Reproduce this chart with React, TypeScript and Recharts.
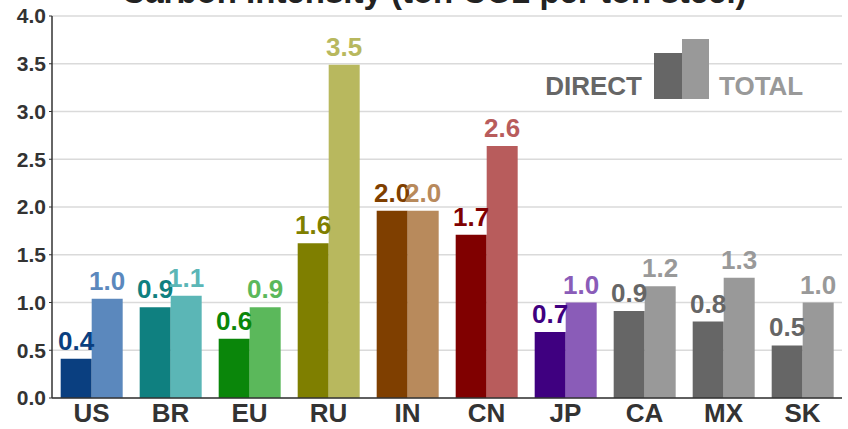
import React from 'react';
import { BarChart, Bar, XAxis, YAxis, CartesianGrid, Cell, LabelList } from 'recharts';

const categories = ['US', 'BR', 'EU', 'RU', 'IN', 'CN', 'JP', 'CA', 'MX', 'SK'];
const directValues = [0.41, 0.95, 0.62, 1.62, 1.96, 1.71, 0.69, 0.91, 0.8, 0.55];
const totalValues = [1.04, 1.07, 0.95, 3.49, 1.96, 2.64, 1.0, 1.17, 1.26, 1.0];
const directLabels = ['0.4', '0.9', '0.6', '1.6', '2.0', '1.7', '0.7', '0.9', '0.8', '0.5'];
const totalLabels = ['1.0', '1.1', '0.9', '3.5', '2.0', '2.6', '1.0', '1.2', '1.3', '1.0'];
const directColors = ['#0a3f80', '#0f8080', '#0a860a', '#7f7f00', '#7f3f00', '#800000', '#3f0080', '#666666', '#666666', '#666666'];
const totalColors = ['#5b88bd', '#5bb6b6', '#5bb85b', '#b8b85e', '#b88a5c', '#b85c5c', '#8a5cb8', '#999999', '#999999', '#999999'];
const yTicks = [0, 0.5, 1, 1.5, 2, 2.5, 3, 3.5, 4];
const titleText = 'Carbon Intensity (ton CO2 per ton steel)';
const legendDirect = 'DIRECT';
const legendTotal = 'TOTAL';

const data = categories.map((c, i) => ({
  name: c,
  direct: directValues[i],
  total: totalValues[i],
  directLabel: directLabels[i],
  totalLabel: totalLabels[i],
}));

const FONT = '"Liberation Sans", Arial, Helvetica, sans-serif';

const makeLabel = (colors: string[]) => (props: any) => {
  const { x, y, width, value, index } = props;
  return (
    <text
      x={Number(x) + Number(width) / 2}
      y={Number(y) - 9}
      textAnchor="middle"
      fontFamily={FONT}
      fontWeight="bold"
      fontSize={26}
      fill={colors[index] ?? '#666'}
    >
      {value}
    </text>
  );
};

export default function App() {
  return (
    <div style={{ position: 'absolute', left: 0, top: 0, width: 848, height: 429, background: '#fff', overflow: 'hidden' }}>
      <BarChart
        width={848}
        height={429}
        data={data}
        margin={{ top: 16, right: 6, bottom: 0, left: 0 }}
        barCategoryGap="11%"
        barGap={0}
      >
        <CartesianGrid vertical={false} stroke="#dadada" strokeWidth={1.3} />
        <XAxis
          dataKey="name"
          height={31}
          tickSize={0}
          tickMargin={6}
          axisLine={{ stroke: '#333', strokeWidth: 1.5 }}
          tickLine={false}
          tick={{ fill: '#333', fontSize: 26, fontWeight: 'bold', fontFamily: FONT }}
          interval={0}
        />
        <YAxis
          width={52}
          domain={[0, 4]}
          ticks={yTicks}
          tickFormatter={(v: number) => v.toFixed(1)}
          tickSize={3}
          tickMargin={3}
          axisLine={{ stroke: '#333', strokeWidth: 1.5 }}
          tickLine={{ stroke: '#333' }}
          tick={{ fill: '#333', fontSize: 21, fontWeight: 'bold', fontFamily: FONT }}
        />
        <Bar dataKey="direct" isAnimationActive={false}>
          {data.map((d, i) => (
            <Cell key={d.name} fill={directColors[i]} />
          ))}
          <LabelList dataKey="directLabel" content={makeLabel(directColors)} />
        </Bar>
        <Bar dataKey="total" isAnimationActive={false}>
          {data.map((d, i) => (
            <Cell key={d.name} fill={totalColors[i]} />
          ))}
          <LabelList dataKey="totalLabel" content={makeLabel(totalColors)} />
        </Bar>
      </BarChart>
      <svg
        width={848}
        height={429}
        style={{ position: 'absolute', left: 0, top: 0, pointerEvents: 'none' }}
      >
        <text x={434} y={3} textAnchor="middle" fontFamily={FONT} fontWeight="bold" fontSize={33} fill="#222">
          {titleText}
        </text>
        <text x={642} y={95} textAnchor="end" fontFamily={FONT} fontWeight="bold" fontSize={26} fill="#666">
          {legendDirect}
        </text>
        <rect x={654} y={53} width={28} height={46} fill="#666666" />
        <rect x={682} y={39} width={27} height={60} fill="#999999" />
        <text x={719} y={95} textAnchor="start" fontFamily={FONT} fontWeight="bold" fontSize={26} fill="#999">
          {legendTotal}
        </text>
      </svg>
    </div>
  );
}
